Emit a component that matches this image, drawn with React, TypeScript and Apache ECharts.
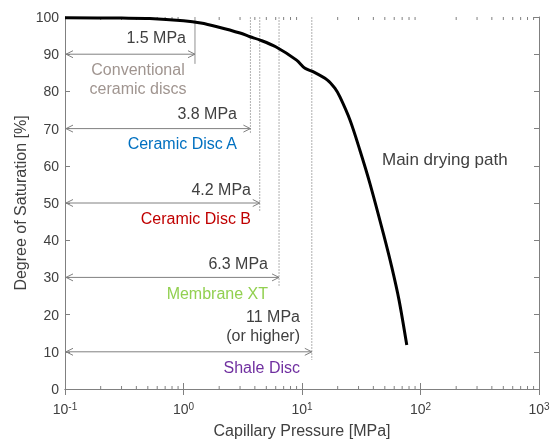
import React, { useEffect, useRef } from "react";
import * as echarts from "echarts";

const pressure = [0.1, 0.3, 0.52, 1.0, 1.4, 1.92, 3.0, 3.64, 4.43, 6.0, 9.0, 10.6, 12.4, 16.3, 19.0, 20.9, 25.4, 30.8, 37.4, 48.5, 57.1, 65.9, 76.6];
const saturation = [99.8, 99.7, 99.6, 99.0, 98.4, 97.4, 95.7, 94.7, 93.8, 92.0, 88.4, 86.2, 85.3, 83.1, 80.8, 78.5, 72.3, 64.2, 55.3, 41.9, 32.9, 23.9, 11.8];

// limit lines: [pressure, arrow level, line bottom]
const limitPressure = [1.25, 3.67, 4.4, 6.4, 12.1];
const arrowLevel = [90, 70, 50, 30, 10];
const lineBottom = [87.4, 68.8, 47.6, 27.4, 7.8];

const minorTicks = [0.2, 0.3, 0.4, 0.5, 0.6, 0.7, 0.8, 0.9, 2, 3, 4, 5, 6, 7, 8, 9, 20, 30, 40, 50, 60, 70, 80, 90, 200, 300, 400, 500, 600, 700, 800, 900];

const FONT = '"Liberation Sans", Arial, sans-serif';
const TXT = "#404040";

export default function App() {
  const ref = useRef<HTMLDivElement>(null);
  useEffect(() => {
    if (!ref.current) return;
    const chart = echarts.init(ref.current, null, { renderer: "svg" });
    const xAxisCommon = {
      type: "log",
      logBase: 10,
      min: 0.1,
      max: 1000,
      axisLine: { show: true, lineStyle: { color: "#808080", width: 1 } },
      axisTick: { show: true, inside: true, length: 6, lineStyle: { color: "#808080" } },
      splitLine: { show: false },
    };
    const yAxisCommon = {
      type: "value",
      min: 0,
      max: 100,
      interval: 10,
      axisLine: { show: true, lineStyle: { color: "#808080", width: 1 } },
      axisTick: { show: true, inside: true, length: 5, lineStyle: { color: "#808080" } },
      splitLine: { show: false },
    };
    const text = (t: string, x: number, y: number, fill: string, align = "right", size = 16) => ({
      type: "text",
      x,
      y,
      style: {
        text: t,
        fill,
        fontFamily: FONT,
        fontSize: size,
        align,
        verticalAlign: "middle",
        lineHeight: 19,
      },
    });
    chart.setOption({
      animation: false,
      grid: { left: 65, right: 12, top: 17, bottom: 52, containLabel: false, outerBoundsMode: "none" },
      xAxis: [
        {
          ...xAxisCommon,
          position: "bottom",
          name: "Capillary Pressure [MPa]",
          nameLocation: "middle",
          nameGap: 33,
          nameMoveOverlap: false,
          nameTextStyle: { fontFamily: FONT, fontSize: 16, color: TXT },
          axisLabel: {
            margin: 13,
            formatter: (v: number) => `{b|10}{s|${Math.round(Math.log10(v))}}`,
            rich: {
              b: { fontFamily: FONT, fontSize: 14, color: TXT, lineHeight: 14, verticalAlign: "bottom" },
              s: { fontFamily: FONT, fontSize: 10, color: TXT, lineHeight: 10, padding: [0, 0, 6, 0] },
            },
          },
        },
        { ...xAxisCommon, position: "top", axisLabel: { show: false } },
      ],
      yAxis: [
        {
          ...yAxisCommon,
          position: "left",
          name: "Degree of Saturation [%]",
          nameLocation: "middle",
          nameGap: 37,
          nameMoveOverlap: false,
          nameTextStyle: { fontFamily: FONT, fontSize: 16, color: TXT },
          axisLabel: { margin: 6, fontFamily: FONT, fontSize: 14, color: TXT },
        },
        { ...yAxisCommon, position: "right", axisLabel: { show: false } },
      ],
      series: [
        {
          type: "custom",
          coordinateSystem: "cartesian2d",
          clip: false,
          silent: true,
          data: minorTicks.map((v) => [v, 0]),
          renderItem: (params: any, api: any) => {
            const v = api.value(0);
            const b = api.coord([v, 0]);
            const t = api.coord([v, 100]);
            const st = { stroke: "#808080", lineWidth: 1 };
            return {
              type: "group",
              children: [
                { type: "line", shape: { x1: b[0], y1: b[1], x2: b[0], y2: b[1] - 3 }, style: st },
                { type: "line", shape: { x1: t[0], y1: t[1], x2: t[0], y2: t[1] + 3 }, style: st },
              ],
            };
          },
        },
        {
          type: "custom",
          coordinateSystem: "cartesian2d",
          clip: false,
          silent: true,
          data: limitPressure.map((p, i) => [p, lineBottom[i], i]),
          renderItem: (params: any, api: any) => {
            const p = api.value(0);
            const yb = api.value(1);
            const i = api.value(2);
            const t = api.coord([p, 100]);
            const b = api.coord([p, yb]);
            const style =
              i === 0
                ? { stroke: "#909090", lineWidth: 1 }
                : { stroke: "#b0b0b0", lineWidth: 1, lineDash: [2, 1] };
            return { type: "line", shape: { x1: t[0], y1: t[1], x2: b[0], y2: b[1] }, style };
          },
        },
        {
          type: "custom",
          coordinateSystem: "cartesian2d",
          clip: false,
          silent: true,
          data: limitPressure.map((p, i) => [p, arrowLevel[i]]),
          renderItem: (params: any, api: any) => {
            const p = api.value(0);
            const y = api.value(1);
            const a = api.coord([0.1, y]);
            const b = api.coord([p, y]);
            const st = { stroke: "#808080", lineWidth: 1, fill: "none" };
            const h = 7;
            const w = 3.5;
            return {
              type: "group",
              children: [
                { type: "line", shape: { x1: a[0] + 1, y1: a[1], x2: b[0], y2: b[1] }, style: st },
                { type: "polyline", shape: { points: [[a[0] + 1 + h, a[1] - w], [a[0] + 1, a[1]], [a[0] + 1 + h, a[1] + w]] }, style: st },
                { type: "polyline", shape: { points: [[b[0] - h, b[1] - w], [b[0], b[1]], [b[0] - h, b[1] + w]] }, style: st },
              ],
            };
          },
        },
        {
          type: "line",
          data: pressure.map((p, i) => [p, saturation[i]]),
          showSymbol: false,
          smooth: 0.3,
          lineStyle: { color: "#000000", width: 3 },
          silent: true,
        },
      ],
      graphic: [
        text("1.5 MPa", 186, 37, TXT),
        text("Conventional\nceramic discs", 138, 79, "#A09590", "center"),
        text("3.8 MPa", 237, 113, TXT),
        text("Ceramic Disc A", 237, 143, "#0070C0"),
        text("4.2 MPa", 251, 189, TXT),
        text("Ceramic Disc B", 251, 218, "#C00000"),
        text("6.3 MPa", 268, 263, TXT),
        text("Membrane XT", 268, 293, "#92D050"),
        text("11 MPa\n(or higher)", 300, 326, TXT),
        text("Shale Disc", 300, 367, "#7030A0"),
        text("Main drying path", 382, 159, TXT, "left", 17),
      ],
    });
    return () => chart.dispose();
  }, []);
  return <div ref={ref} style={{ position: "fixed", left: 0, top: 0, width: 551, height: 441 }} />;
}
